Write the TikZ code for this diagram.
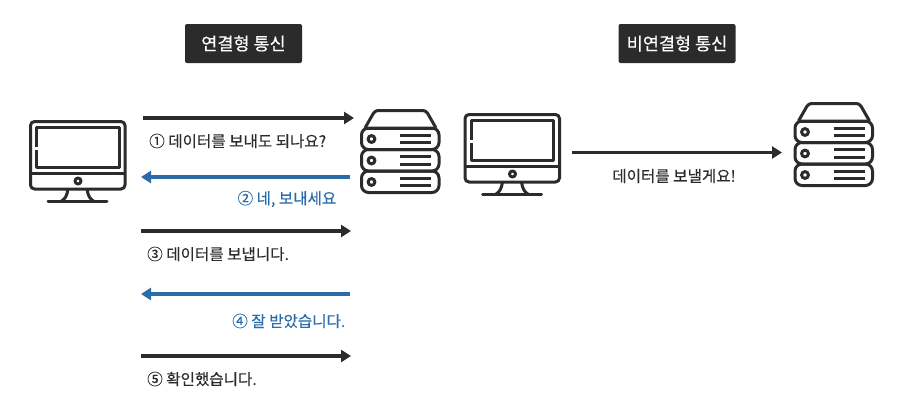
\documentclass[tikz,border=0pt]{standalone}
\usepackage{fontspec}
\setmainfont[FakeBold=0.3]{Noto Sans CJK KR}
\usetikzlibrary{arrows.meta}
\definecolor{darkline}{HTML}{2B2B2B}
\definecolor{blueline}{HTML}{2A6BA9}
\tikzset{
	headbox/.style={fill=darkline, text=white, rounded corners=2pt, minimum width=117pt, minimum height=39pt, inner sep=0pt, font=\fontsize{17.5}{20}\selectfont},
	msg/.style={text=darkline, inner sep=0pt, font=\fontsize{15.6}{18}\selectfont},
	bluemsg/.style={msg, text=blueline},
	sendline/.style={draw=darkline, line width=3.4pt, -{Triangle[length=10pt,width=12pt]}},
	replyline/.style={sendline, draw=blueline},
	icon/.style={draw=darkline, line width=3pt, line join=round},
	pics/computer/.style={code={
		\draw[icon, rounded corners=4pt] (1.5,1.5) rectangle (96,69);
		\draw[icon] (7.5,27) -- (7.5,7.5) -- (90,7.5) -- (90,47.5) -- (7.5,47.5) -- (7.5,30);
		\draw[icon] (1.5,53) -- (96,53);
		\draw[icon] (49,61) circle (3);
		\draw[icon] (39,69) .. controls (38,76) and (36,79) .. (32,81.5);
		\draw[icon] (58,69) .. controls (59,76) and (61,79) .. (65,81.5);
		\draw[icon, line cap=round] (19,81.5) -- (78,81.5);
	}},
	pics/server/.style={code={
		\draw[icon, rounded corners=3pt] (5,19) -- (15,1.5) -- (66,1.5) -- (76,19);
		\draw[icon] (5,19) -- (76,19);
		\foreach \y in {19,40.5,62} {
			\draw[icon, rounded corners=7pt] (1.5,\y) rectangle (79,\y+21.5);
			\draw[icon] (11.5,\y+11) circle (3.4);
			\draw[icon] (40,\y+7) -- (71,\y+7);
			\draw[icon] (40,\y+14.5) -- (71,\y+14.5);
		}
	}}
}
\begin{document}
\begin{tikzpicture}[x=1pt, y=-1pt]
	\useasboundingbox (0,0) rectangle (908,408);

	% headers
	\node[headbox] (connhead) at (243.5,43.5) {연결형 통신};
	\node[headbox] (lesshead) at (677,43.5) {비연결형 통신};

	% icons
	\pic at (29,120) {computer};
	\pic at (360,109) {server};
	\pic at (463.5,113) {computer};
	\pic at (793.5,102) {server};

	% connection side
	\coordinate (a1) at (143,118);
	\coordinate (b1) at (354,118);
	\coordinate (a2) at (350,177);
	\coordinate (b2) at (141,177);
	\coordinate (a3) at (141,231);
	\coordinate (b3) at (351,231);
	\coordinate (a4) at (350,294);
	\coordinate (b4) at (141,294);
	\coordinate (a5) at (141,356);
	\coordinate (b5) at (351,356);
	\draw[sendline] (a1) -- (b1);
	\draw[replyline] (a2) -- (b2);
	\draw[sendline] (a3) -- (b3);
	\draw[replyline] (a4) -- (b4);
	\draw[sendline] (a5) -- (b5);

	\node[msg, anchor=west] (m1) at (149,141) {① 데이터를 보내도 되나요?};
	\node[bluemsg, anchor=east] (m2) at (336.5,199) {② 네, 보내세요};
	\node[msg, anchor=west] (m3) at (147,254) {③ 데이터를 보냅니다.};
	\node[bluemsg, anchor=east] (m4) at (345.5,321) {④ 잘 받았습니다.};
	\node[msg, anchor=west] (m5) at (147,379) {⑤ 확인했습니다.};

	% connectionless side
	\coordinate (a6) at (572,152.5);
	\coordinate (b6) at (782,152.5);
	\draw[sendline] (a6) -- (b6);
	\node[msg] (m6) at (674,176) {데이터를 보낼게요!};
\end{tikzpicture}
\end{document}
